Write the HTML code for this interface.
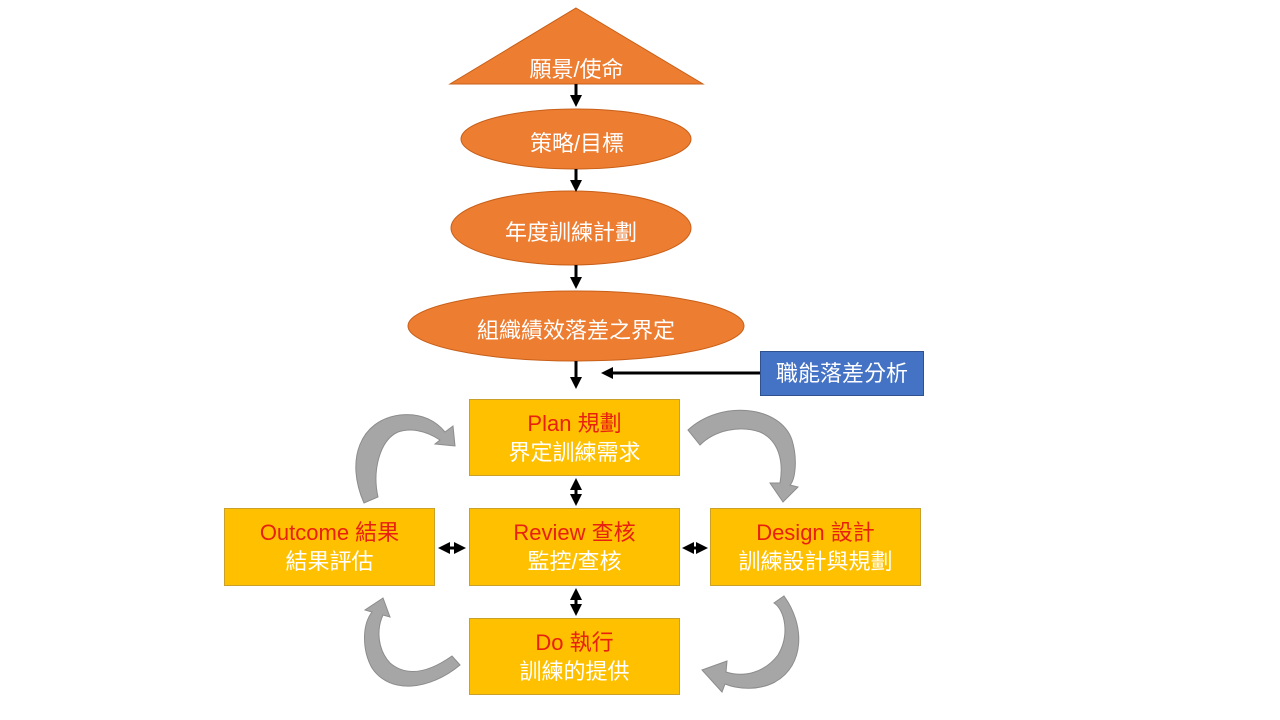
<!DOCTYPE html>
<html><head><meta charset="utf-8"><style>
html,body{margin:0;padding:0;background:#fff;}
body{width:1280px;height:720px;position:relative;overflow:hidden;font-family:"Liberation Sans","Noto Sans CJK TC",sans-serif;}
.t{position:absolute;text-align:center;color:#fff;font-size:22px;}
.box{position:absolute;background:#ffc000;border:1px solid #c9a02a;box-sizing:border-box;text-align:center;font-size:22px;line-height:29px;padding-top:9px;color:#fff;}
.box .r{color:#e8200e;}
</style></head><body>
<svg width="1280" height="720" style="position:absolute;left:0;top:0">
<defs>
<marker id="ah" markerWidth="4" markerHeight="4" refX="2" refY="2" orient="auto" markerUnits="strokeWidth"><path d="M0,0 L4,2 L0,4z" fill="#000"/></marker>
<marker id="as" markerWidth="4" markerHeight="4" refX="2" refY="2" orient="auto-start-reverse" markerUnits="strokeWidth"><path d="M0,0 L4,2 L0,4z" fill="#000"/></marker>
</defs>
<polygon points="576,8 703,84 450,84" fill="#ed7d31" stroke="#c85f18" stroke-width="1"/>
<ellipse cx="576" cy="139" rx="115" ry="30" fill="#ed7d31" stroke="#c85f18"/>
<ellipse cx="571" cy="228" rx="120" ry="37" fill="#ed7d31" stroke="#c85f18"/>
<ellipse cx="576" cy="326" rx="168" ry="35" fill="#ed7d31" stroke="#c85f18"/>
<g stroke="#000" stroke-width="3" fill="none">
<line x1="576" y1="84" x2="576" y2="101" marker-end="url(#ah)"/>
<line x1="576" y1="169" x2="576" y2="186" marker-end="url(#ah)"/>
<line x1="576" y1="265" x2="576" y2="283" marker-end="url(#ah)"/>
<line x1="576" y1="361" x2="576" y2="383" marker-end="url(#ah)"/>
<line x1="760" y1="373" x2="607" y2="373" marker-end="url(#ah)"/>
<line x1="576" y1="484" x2="576" y2="500" marker-start="url(#as)" marker-end="url(#ah)"/>
<line x1="576" y1="594" x2="576" y2="610" marker-start="url(#as)" marker-end="url(#ah)"/>
<line x1="444" y1="548" x2="460" y2="548" marker-start="url(#as)" marker-end="url(#ah)"/>
<line x1="688" y1="548" x2="702" y2="548" marker-start="url(#as)" marker-end="url(#ah)"/>
</g>
<g fill="#a6a6a6" stroke="#8c8c8c" stroke-width="1">
<path d="M364,503 C345,460 360,420 400,415 C420,413 435,420 445,432 L453,426 L455,446 L435,444 L440,440 C425,430 410,428 398,432 C380,440 372,470 378,497 Z"/>
<path d="M688,430 C720,400 780,405 792,440 C798,460 795,480 790,485 L798,487 L783,502 L770,483 L780,483 C784,460 778,440 760,432 C740,425 715,430 700,445 Z"/>
<path d="M784,596 C805,625 805,665 775,682 C760,690 740,690 725,684 L722,692 L702,670 L727,661 L726,672 C745,678 765,672 778,655 C790,635 785,610 774,603 Z"/>
<path d="M460,665 C430,690 390,695 372,668 C362,650 362,625 372,612 L365,610 L383,598 L390,617 L383,615 C376,630 378,650 390,663 C410,680 435,668 452,656 Z"/>
</g>
</svg>
<div class="t" style="left:450px;top:52px;width:253px;">願景/使命</div>
<div class="t" style="left:462px;top:126px;width:230px;">策略/目標</div>
<div class="t" style="left:451px;top:215px;width:240px;">年度訓練計劃</div>
<div class="t" style="left:408px;top:313px;width:336px;">組織績效落差之界定</div>
<div style="position:absolute;left:760px;top:351px;width:164px;height:45px;background:#4472c4;border:1px solid #2f528f;box-sizing:border-box;color:#fff;font-size:22px;line-height:43px;text-align:center;">職能落差分析</div>
<div class="box" style="left:469px;top:399px;width:211px;height:77px;"><span class="r">Plan 規劃</span><br>界定訓練需求</div>
<div class="box" style="left:469px;top:508px;width:211px;height:78px;"><span class="r">Review 查核</span><br>監控/查核</div>
<div class="box" style="left:224px;top:508px;width:211px;height:78px;"><span class="r">Outcome 結果</span><br>結果評估</div>
<div class="box" style="left:710px;top:508px;width:211px;height:78px;"><span class="r">Design 設計</span><br>訓練設計與規劃</div>
<div class="box" style="left:469px;top:618px;width:211px;height:77px;"><span class="r">Do 執行</span><br>訓練的提供</div>
</body></html>
